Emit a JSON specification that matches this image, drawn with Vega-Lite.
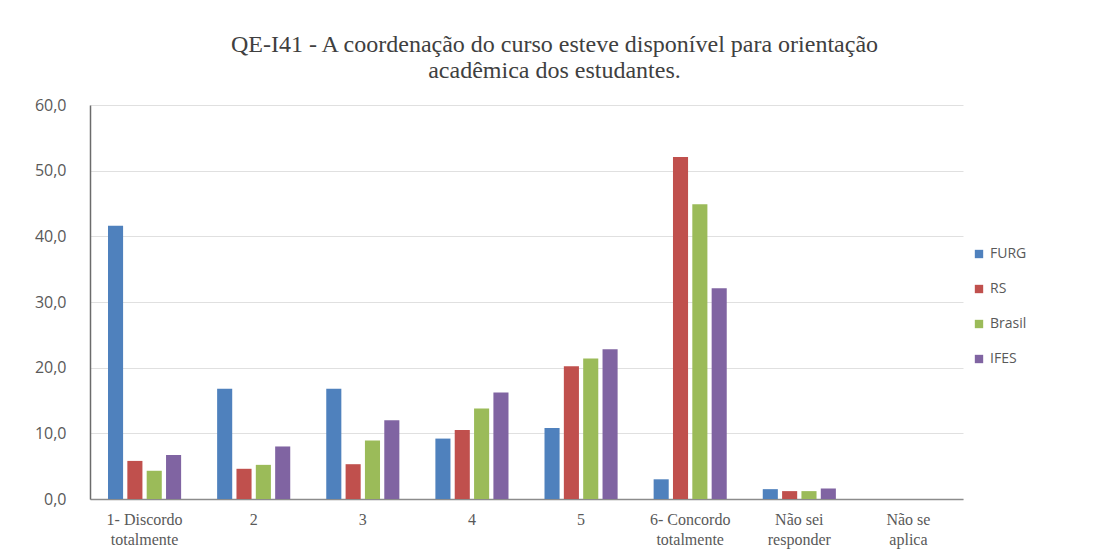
{
  "$schema": "https://vega.github.io/schema/vega-lite/v6.json",
  "autosize": {"type": "none"},
  "width": 873,
  "height": 394,
  "padding": {"left": 90, "top": 105, "right": 130, "bottom": 58},
  "background": "white",
  "config": {
    "locale": {"number": {"decimal": ",", "thousands": ".", "grouping": [3], "currency": ["R$", ""]}},
    "view": {"stroke": null},
    "axis": {"labelColor": "#595959", "domainColor": "#8c8c8c", "gridColor": "#e0e0e0"}
  },
  "title": {
    "text": ["QE-I41 - A coordenação do curso esteve disponível para orientação", "acadêmica dos estudantes."],
    "font": "Liberation Serif",
    "fontSize": 24,
    "fontWeight": "normal",
    "color": "#404040",
    "lineHeight": 26,
    "anchor": "middle",
    "dx": 28,
    "offset": 14
  },
  "data": {
    "values": [
      {"cat": "1- Discordo totalmente", "serie": "FURG", "v": 41.6},
      {"cat": "1- Discordo totalmente", "serie": "RS", "v": 5.8},
      {"cat": "1- Discordo totalmente", "serie": "Brasil", "v": 4.3},
      {"cat": "1- Discordo totalmente", "serie": "IFES", "v": 6.7},
      {"cat": "2", "serie": "FURG", "v": 16.8},
      {"cat": "2", "serie": "RS", "v": 4.6},
      {"cat": "2", "serie": "Brasil", "v": 5.2},
      {"cat": "2", "serie": "IFES", "v": 8.0},
      {"cat": "3", "serie": "FURG", "v": 16.8},
      {"cat": "3", "serie": "RS", "v": 5.3},
      {"cat": "3", "serie": "Brasil", "v": 8.9},
      {"cat": "3", "serie": "IFES", "v": 12.0},
      {"cat": "4", "serie": "FURG", "v": 9.2},
      {"cat": "4", "serie": "RS", "v": 10.5},
      {"cat": "4", "serie": "Brasil", "v": 13.8},
      {"cat": "4", "serie": "IFES", "v": 16.2},
      {"cat": "5", "serie": "FURG", "v": 10.8},
      {"cat": "5", "serie": "RS", "v": 20.2},
      {"cat": "5", "serie": "Brasil", "v": 21.4},
      {"cat": "5", "serie": "IFES", "v": 22.8},
      {"cat": "6- Concordo totalmente", "serie": "FURG", "v": 3.0},
      {"cat": "6- Concordo totalmente", "serie": "RS", "v": 52.1},
      {"cat": "6- Concordo totalmente", "serie": "Brasil", "v": 44.9},
      {"cat": "6- Concordo totalmente", "serie": "IFES", "v": 32.1},
      {"cat": "Não sei responder", "serie": "FURG", "v": 1.5},
      {"cat": "Não sei responder", "serie": "RS", "v": 1.2},
      {"cat": "Não sei responder", "serie": "Brasil", "v": 1.2},
      {"cat": "Não sei responder", "serie": "IFES", "v": 1.6},
      {"cat": "Não se aplica", "serie": "FURG", "v": 0},
      {"cat": "Não se aplica", "serie": "RS", "v": 0},
      {"cat": "Não se aplica", "serie": "Brasil", "v": 0},
      {"cat": "Não se aplica", "serie": "IFES", "v": 0}
    ]
  },
  "mark": {"type": "bar"},
  "encoding": {
    "x": {
      "field": "cat",
      "type": "nominal",
      "sort": null,
      "scale": {"paddingInner": 0.33, "paddingOuter": 0.165},
      "axis": {
        "title": null,
        "labelAngle": 0,
        "ticks": false,
        "labelFont": "Liberation Serif",
        "labelFontSize": 16,
        "labelPadding": 12,
        "labelLineHeight": 20,
        "domainWidth": 1.5,
        "labelExpr": "indexof(datum.value, ' ') > 0 ? [slice(datum.value, 0, lastindexof(datum.value, ' ')), slice(datum.value, lastindexof(datum.value, ' ') + 1)] : datum.value"
      }
    },
    "xOffset": {
      "field": "serie",
      "type": "nominal",
      "sort": ["FURG", "RS", "Brasil", "IFES"],
      "scale": {"paddingInner": 0.22}
    },
    "y": {
      "field": "v",
      "type": "quantitative",
      "scale": {"domain": [0, 60]},
      "axis": {
        "title": null,
        "values": [0, 10, 20, 30, 40, 50, 60],
        "format": ".1f",
        "ticks": false,
        "labelFont": "Open Sans",
        "labelFontSize": 16,
        "labelPadding": 24,
        "domainWidth": 1.5,
        "domainColor": "#6b6b6b"
      }
    },
    "color": {
      "field": "serie",
      "type": "nominal",
      "sort": ["FURG", "RS", "Brasil", "IFES"],
      "scale": {"domain": ["FURG", "RS", "Brasil", "IFES"], "range": ["#4F81BD", "#C0504D", "#9BBB59", "#8064A2"]},
      "legend": {
        "title": null,
        "orient": "none",
        "legendX": 882,
        "legendY": 142,
        "symbolType": "square",
        "symbolSize": 70,
        "labelFont": "Open Sans",
        "labelFontSize": 14,
        "labelColor": "#595959",
        "rowPadding": 21,
        "labelOffset": 4
      }
    }
  }
}
